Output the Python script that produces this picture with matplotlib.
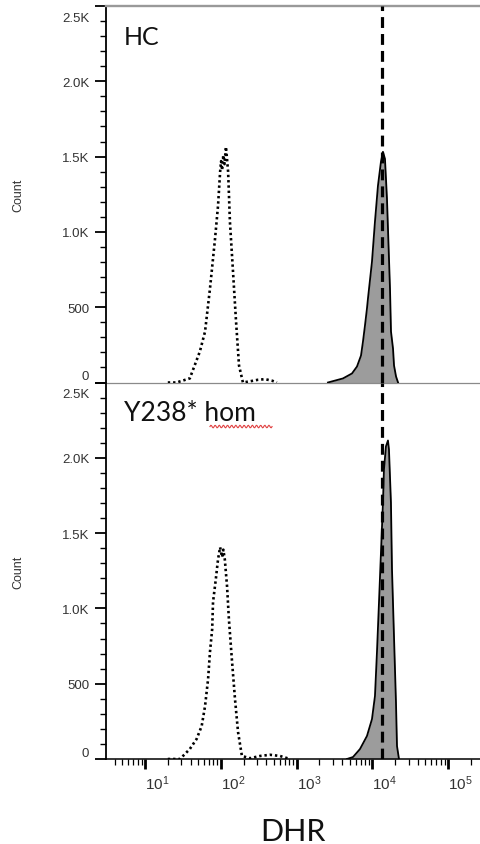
import numpy as np
import matplotlib
matplotlib.use("Agg")
import matplotlib.pyplot as plt
from matplotlib.ticker import FixedLocator, FixedFormatter, LogLocator, NullFormatter, NullLocator
from matplotlib.transforms import ScaledTranslation

plt.rcParams['mathtext.fontset'] = 'custom'
plt.rcParams['mathtext.rm'] = 'Liberation Sans'
plt.rcParams['mathtext.it'] = 'Liberation Sans'
plt.rcParams['font.family'] = ['Liberation Sans', 'DejaVu Sans']

# ---------------- data ----------------
# HC, unstained (dotted)
hc_unst_x = [20, 26, 39, 53, 62, 72, 84, 92, 98, 101, 104, 108, 112, 117, 125, 132, 145, 159, 174, 196,
             243, 309, 383, 475, 550]
hc_unst_count = [0, 0, 27, 206, 338, 623, 955, 1174, 1399, 1470, 1410, 1510, 1450, 1565, 1399, 1068, 736,
                 405, 113, 0, 8, 18, 22, 12, 0]
# HC, DHR stained (filled)
hc_dhr_x = [2594, 4093, 5383, 6266, 7079, 7518, 7986, 8484, 8745, 9879, 10818, 11846, 12972, 13791,
            14660, 15585, 16567, 17082, 17611, 18723, 19304, 20520, 21814]
hc_dhr_count = [0, 27, 60, 106, 179, 272, 378, 491, 557, 802, 1068, 1306, 1465, 1532,
                1485, 1220, 822, 623, 338, 225, 113, 40, 0]
# Y238* hom, unstained (dotted)
hom_unst_x = [20, 29, 39, 48, 56, 62, 68, 72, 77, 79, 86, 92, 98, 104, 108, 113, 121, 128, 140, 154, 169,
              190, 243, 329, 446, 604, 818]
hom_unst_count = [0, 0, 66, 133, 219, 351, 530, 710, 862, 1041, 1194, 1326, 1406, 1340, 1390, 1326, 1147,
                  928, 663, 398, 179, 20, 5, 20, 28, 20, 0]
# Y238* hom, DHR stained (filled)
hom_dhr_x = [4620, 5550, 6860, 8490, 9880, 10820, 11500, 12230, 12990, 13800, 14220, 15110, 16060,
             16550, 17580, 18150, 19280, 20480, 21130, 22440]
hom_dhr_count = [0, 13, 66, 153, 265, 418, 710, 1041, 1373, 1704, 1923, 2076, 2115,
                 2056, 1704, 1260, 816, 378, 86, 0]

gate_x = 13500
y_ticks = [0, 500, 1000, 1500, 2000, 2500]
y_tick_labels = ['0', '500', '1.0K', '1.5K', '2.0K', '2.5K']
x_ticks = [1e1, 1e2, 1e3, 1e4, 1e5]
x_tick_labels = [r'$10^{1}$', r'$10^{2}$', r'$10^{3}$', r'$10^{4}$', r'$10^{5}$']
panel_labels = ['HC', 'Y238* hom']
x_label = 'DHR'
y_label = 'Count'

# ---------------- figure ----------------
W, H = 480, 845
fig = plt.figure(figsize=(W / 100, H / 100), dpi=100)


def px_rect(l, t, r, b):
    return [l / W, 1 - b / H, (r - l) / W, (b - t) / H]


ax_top = fig.add_axes(px_rect(106, 7, 480, 383.5))
ax_bot = fig.add_axes(px_rect(106, 383.5, 480, 760))

panels = [
    (ax_top, hc_unst_x, hc_unst_count, hc_dhr_x, hc_dhr_count, panel_labels[0]),
    (ax_bot, hom_unst_x, hom_unst_count, hom_dhr_x, hom_dhr_count, panel_labels[1]),
]

for ax, ux, uc, dx, dc, lab in panels:
    ax.set_xscale('log')
    ax.set_xlim(3.06, 2.63e5)
    ax.set_ylim(0, 2500)
    ax.fill_between(dx, dc, 0, color='#9c9c9c', linewidth=0, zorder=2)
    ax.plot(dx, dc, color='black', lw=1.3, zorder=3)
    ax.plot(ux, uc, color='black', lw=1.9, linestyle=(0, (0.9, 1.1)), zorder=3)
    ax.axvline(gate_x, color='black', lw=2.3, dashes=(3.4, 1.9), zorder=5)

    ax.yaxis.set_major_locator(FixedLocator(y_ticks))
    ax.yaxis.set_major_formatter(FixedFormatter(y_tick_labels))
    ax.yaxis.set_minor_locator(FixedLocator(np.arange(0, 2501, 100)))
    ax.tick_params(axis='y', which='major', direction='out', length=8, width=1.3,
                   labelsize=9.5, labelcolor='#333333', pad=4, right=False)
    ax.tick_params(axis='y', which='minor', direction='out', length=4.5, width=1.0, right=False)
    ax.spines['right'].set_visible(False)
    ax.spines['left'].set_linewidth(1.3)
    ax.set_facecolor('none')
    ax.text(0.048, 0.90, lab, transform=ax.transAxes, fontsize=19 if lab != 'HC' else 18,
            family=['Lato', 'DejaVu Sans'], va='baseline', ha='left', color='#111111')

# top panel x axis: no ticks
ax_top.xaxis.set_major_locator(NullLocator())
ax_top.xaxis.set_minor_locator(NullLocator())
ax_top.spines['top'].set_color('#999999')
ax_top.spines['top'].set_linewidth(1.7)
ax_top.spines['bottom'].set_color('#8a8a8a')
ax_top.spines['bottom'].set_linewidth(0.9)

# bottom panel x axis
ax_bot.spines['top'].set_visible(False)
ax_bot.spines['bottom'].set_linewidth(1.1)
ax_bot.xaxis.set_major_locator(FixedLocator(x_ticks))
ax_bot.xaxis.set_major_formatter(FixedFormatter(x_tick_labels))
ax_bot.xaxis.set_minor_locator(LogLocator(base=10, subs=np.arange(2, 10), numticks=20))
ax_bot.xaxis.set_minor_formatter(NullFormatter())
ax_bot.tick_params(axis='x', which='major', direction='out', length=7.5, width=2.0,
                   labelsize=11, labelcolor='#333333', pad=3)
ax_bot.tick_params(axis='x', which='minor', direction='out', length=4, width=0.9)
for t in ax_bot.xaxis.get_major_ticks():
    t.label1.set_horizontalalignment('left')

# end labels of the y axes shifted inward, like the original
for ax in (ax_top, ax_bot):
    ticks = ax.yaxis.get_major_ticks()
    ticks[0].label1.set_verticalalignment('bottom')
    ticks[-1].label1.set_verticalalignment('top')
    ticks[-1].label1.set_transform(ticks[-1].label1.get_transform() +
                                   ScaledTranslation(0, -6 / 100, fig.dpi_scale_trans))

# spell-check squiggle under "hom"
sx = np.linspace(0.278, 0.444, 80)
sy = 0.883 + 0.0035 * np.sin(np.linspace(0, 30 * np.pi, 80))
ax_bot.plot(sx, sy, transform=ax_bot.transAxes, color='#e04040', lw=0.8, clip_on=False, zorder=6)

# axis labels
fig.text(18 / W, 1 - 195 / H, y_label, rotation=90, ha='center', va='center', fontsize=9, color='#333333')
fig.text(18 / W, 1 - 572 / H, y_label, rotation=90, ha='center', va='center', fontsize=9, color='#333333')
fig.text(293 / W, 4 / H, x_label, ha='center', va='baseline', fontsize=22,
         family=['Lato', 'DejaVu Sans'], color='#111111')

fig.savefig('out.png', dpi=100)
